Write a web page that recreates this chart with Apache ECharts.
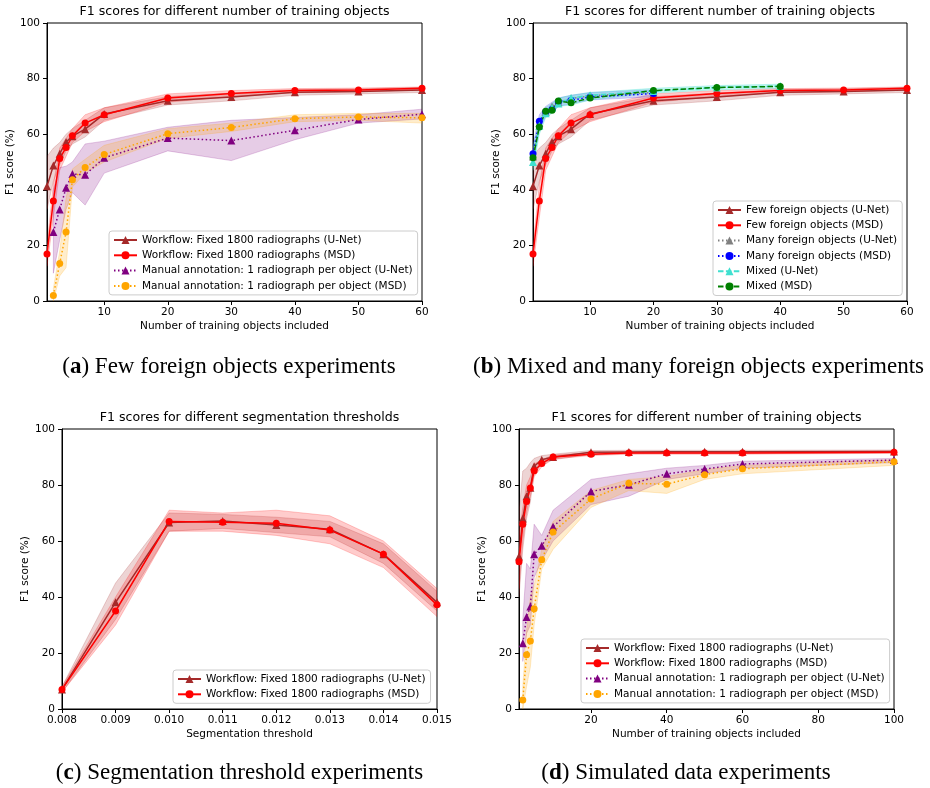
<!DOCTYPE html>
<html>
<head>
<meta charset="utf-8">
<script src="https://cdn.jsdelivr.net/npm/echarts@6/dist/echarts.min.js"></script>
<style>
  html, body { margin: 0; padding: 0; background: #fff; }
  #chart { width: 930px; height: 788px; }
</style>
</head>
<body>
<div id="chart"></div>
<script>
// ---- data ----
var yTicks = [0, 20, 40, 60, 80, 100];

// (a) few foreign objects
var xA = [1, 2, 3, 4, 5, 7, 10, 20, 30, 40, 50, 60];
var aUnet   = [41.3, 48.7, 53, 57.2, 59.3, 61.8, 67.3, 72, 73.4, 75.1, 75.4, 75.9];
var aUnetLo = [33, 43, 49, 54, 56.5, 59, 65, 70.5, 72, 74, 74.5, 75];
var aUnetHi = [52, 55, 57, 60, 62, 65, 69.5, 73.5, 74.8, 76, 76.3, 76.8];
var aMsd    = [16.9, 36, 51.3, 55.2, 59.4, 64, 67, 73, 74.6, 75.7, 75.9, 76.5];
var aMsdLo  = [12.5, 30, 47, 52, 57, 61, 64.5, 71.5, 73.5, 75, 75.3, 76];
var aMsdHi  = [20, 42, 55, 58.5, 62, 67, 69.5, 74.5, 75.7, 76.4, 76.6, 77];
var xAm = [2, 3, 4, 5, 7, 10, 20, 30, 40, 50, 60];
var aManU   = [24.8, 32.9, 40.7, 45.7, 45.4, 51.5, 58.6, 57.7, 61.4, 65.3, 67.2];
var aManULo = [10, 22, 33, 39, 34.5, 46, 54, 50.5, 58, 64, 65.5];
var aManUHi = [40, 48, 48.5, 50, 56.5, 57.5, 62.5, 65, 66, 67, 69];
var aManM   = [2, 13.5, 24.8, 43.6, 48, 52.7, 60.2, 62.4, 65.6, 66.2, 65.9];
var aManMLo = [0, 9, 12, 41, 46, 50, 58.5, 61, 64.5, 65, 64];
var aManMHi = [4.5, 18, 37, 47.5, 51, 56, 62, 64, 67, 67.5, 67.5];

// (b) many / mixed foreign objects
var xBmany = [1, 2, 3, 4, 5, 7, 10, 20];
var bManyU   = [52, 64, 68, 70, 71.5, 72.8, 73.8, 75];
var bManyM   = [53, 64.7, 68, 69, 71.6, 72.2, 73.4, 74.6];
var bManyLo  = [49, 61.5, 66.5, 68, 70, 71, 72.3, 73.5];
var bManyHi  = [56, 67, 70, 71.5, 73, 74, 75, 76];
var xBmix = [1, 2, 3, 4, 5, 7, 10, 20, 30, 40];
var bMixU    = [50, 63, 67.5, 69.5, 71, 73, 74, 75.5, 76.8, 77.3];
var bMixM    = [51.5, 62.6, 68.3, 68.6, 71.9, 71.3, 73, 75.7, 76.8, 77.2];
var bMixLo   = [47, 60, 66, 67.5, 70, 70.5, 72.3, 74.8, 76, 76.5];
var bMixHi   = [55, 65.5, 69.5, 71, 73, 74, 75, 76.5, 77.5, 78];

// (c) segmentation threshold
var xC = [0.008, 0.009, 0.010, 0.011, 0.012, 0.013, 0.014, 0.015];
var cUnet   = [7, 38.1, 66.6, 67.1, 65.7, 64.2, 55.3, 38.1];
var cUnetLo = [6, 32, 63.5, 64.5, 63, 61.5, 52, 35];
var cUnetHi = [8, 45, 70, 69.5, 68.5, 67, 59, 42];
var cMsd    = [7, 35, 67, 66.7, 66.3, 63.9, 55.3, 37.2];
var cMsdLo  = [6, 30, 63.5, 63.5, 62, 59, 50.5, 33];
var cMsdHi  = [8, 40, 71, 70, 71, 69, 60, 43];

// (d) simulated data
var xD = [1, 2, 3, 4, 5, 7, 10, 20, 30, 40, 50, 60, 100];
var dUnet   = [54.5, 68, 76, 79, 86.7, 89, 90, 91.7, 91.8, 91.9, 91.9, 91.9, 92];
var dUnetLo = [40, 57, 68, 74, 84, 87.5, 89, 91, 91.2, 91.3, 91.3, 91.3, 91.4];
var dUnetHi = [70, 85, 86, 88, 89.5, 90.5, 91, 92.3, 92.4, 92.4, 92.4, 92.4, 92.5];
var dMsd    = [52.6, 66, 74.1, 78.9, 85.1, 87.7, 90, 91, 91.4, 91.4, 91.4, 91.4, 91.7];
var dMsdLo  = [43, 60, 70, 76, 83, 86.5, 89.3, 90.5, 91, 91, 91, 91, 91.3];
var dMsdHi  = [62, 72, 80, 83, 87.5, 89, 90.7, 91.5, 91.8, 91.8, 91.8, 91.8, 92.1];
var xDm = [2, 3, 4, 5, 7, 10, 20, 30, 40, 50, 60, 100];
var dManU   = [23.5, 32.9, 36.6, 55.3, 58.3, 65.1, 77.7, 80.1, 84, 85.7, 87.5, 88.9];
var dManULo = [17, 27, 30, 47, 53, 60, 73, 76, 82, 84, 86, 88];
var dManUHi = [32, 52, 50, 66, 62, 71, 82, 84, 86, 87, 88.5, 89.5];
var dManM   = [3.2, 19.4, 24.3, 35.8, 53.3, 63.2, 75, 80.6, 80.3, 83.7, 85.8, 88.3];
var dManMLo = [0, 8, 15, 30, 50, 57, 72, 78, 77, 82, 84, 87];
var dManMHi = [8, 28, 40, 44, 57, 67, 78, 82, 83, 85.5, 87, 89];

var xTicksA = [10, 20, 30, 40, 50, 60];
var xTicksD = [20, 40, 60, 80, 100];

var nWfU = 'Workflow: Fixed 1800 radiographs (U-Net)';
var nWfM = 'Workflow: Fixed 1800 radiographs (MSD)';
var nMaU = 'Manual annotation: 1 radiograph per object (U-Net)';
var nMaM = 'Manual annotation: 1 radiograph per object (MSD)';
var nFewU = 'Few foreign objects (U-Net)';
var nFewM = 'Few foreign objects (MSD)';
var nManyU = 'Many foreign objects (U-Net)';
var nManyM = 'Many foreign objects (MSD)';
var nMixU = 'Mixed (U-Net)';
var nMixM = 'Mixed (MSD)';

// ---- helpers ----
var FONT = 'DejaVu Sans';
var FS = 10.5;
var DOT = [1.5, 2.5];
var DASH = [5.5, 2.4];

function pairs(xs, ys) {
  var out = [];
  for (var i = 0; i < xs.length; i++) out.push([xs[i], ys[i]]);
  return out;
}

function line(name, g, xs, ys, color, symbol, type) {
  return {
    name: name, type: 'line', xAxisIndex: g, yAxisIndex: g,
    data: pairs(xs, ys),
    symbol: symbol, symbolSize: symbol == 'triangle' ? 8 : 7,
    showSymbol: true,
    itemStyle: { color: color },
    lineStyle: { color: color, width: 1.5, type: type || 'solid' },
    z: 3
  };
}

function band(g, xs, lo, hi, fill) {
  var rows = [];
  for (var i = 0; i < xs.length; i++) rows.push([xs[i], lo[i], hi[i]]);
  return {
    type: 'custom', xAxisIndex: g, yAxisIndex: g, data: rows, z: 1,
    silent: true, clip: true,
    encode: { x: 0, y: [1, 2] },
    renderItem: function (params, api) {
      if (params.dataIndex !== 0) return;
      var pts = [];
      for (var k = 0; k < xs.length; k++) pts.push(api.coord([xs[k], hi[k]]));
      for (var k = xs.length - 1; k >= 0; k--) pts.push(api.coord([xs[k], lo[k]]));
      return {
        type: 'polygon', shape: { points: pts },
        style: { fill: fill, stroke: fill, lineWidth: 1 }
      };
    }
  };
}

function xAxisOf(g, min, max, ticks, name, fmt) {
  return {
    type: 'value', gridIndex: g, min: min, max: max,
    name: name, nameLocation: 'middle', nameGap: 20,
    nameTextStyle: { fontFamily: FONT, fontSize: FS, color: '#000' },
    axisLine: { onZero: false, lineStyle: { color: '#000', width: 1 } },
    axisTick: { show: true, length: 4, customValues: ticks, lineStyle: { color: '#000' } },
    axisLabel: { customValues: ticks, margin: 6, fontFamily: FONT, fontSize: FS, color: '#000',
                 formatter: fmt || function (v) { return String(v); } },
    splitLine: { show: false }
  };
}

function yAxisOf(g) {
  return {
    type: 'value', gridIndex: g, min: 0, max: 100, interval: 20,
    name: 'F1 score (%)', nameLocation: 'middle', nameGap: 28,
    nameTextStyle: { fontFamily: FONT, fontSize: FS, color: '#000' },
    axisLine: { show: true, lineStyle: { color: '#000', width: 1 } },
    axisTick: { show: true, length: 4, lineStyle: { color: '#000' } },
    axisLabel: { margin: 7, fontFamily: FONT, fontSize: FS, color: '#000' },
    splitLine: { show: false }
  };
}

function legendOf(names, left, top) {
  return {
    data: names, left: left, top: top, orient: 'vertical',
    selectedMode: false,
    itemWidth: 23, itemHeight: 10, itemGap: 3.3,
    padding: [3, 5, 3, 4],
    backgroundColor: 'rgba(255,255,255,0.8)',
    borderColor: '#cccccc', borderWidth: 1, borderRadius: 3,
    textStyle: { fontFamily: FONT, fontSize: FS, lineHeight: 12, color: '#000' }
  };
}

function gText(txt, x, y) {
  return {
    type: 'text', x: x, y: y,
    style: { text: txt, fontFamily: FONT, fontSize: 12.6, fill: '#000',
             textAlign: 'center', textVerticalAlign: 'middle' }
  };
}

function caption(letter, rest, x, y) {
  return {
    type: 'text', x: x, y: y,
    style: {
      text: '(' + '{b|' + letter + '}' + ') ' + rest,
      fontFamily: 'Liberation Serif', fontSize: 23, fill: '#000',
      textAlign: 'center', textVerticalAlign: 'middle',
      rich: { b: { fontFamily: 'Liberation Serif', fontSize: 23, fontWeight: 'bold', fill: '#000' } }
    }
  };
}

var BROWN = '#a52a2a', RED = '#ff0000', PURPLE = '#800080', ORANGE = '#ffa500';
var GRAY = '#808080', BLUE = '#0000ff', TURQ = '#40e0d0', GREEN = '#008000';

var chart = echarts.init(document.getElementById('chart'));

var gridStyle = { show: true, borderColor: '#000', borderWidth: 1, backgroundColor: '#fff', containLabel: false, outerBoundsMode: 'none' };

var option = {
  animation: false,
  backgroundColor: '#fff',
  grid: [
    Object.assign({ left: 47, top: 23, width: 375, height: 278 }, gridStyle),
    Object.assign({ left: 533, top: 23, width: 374, height: 278 }, gridStyle),
    Object.assign({ left: 62, top: 429, width: 375, height: 280 }, gridStyle),
    Object.assign({ left: 519, top: 429, width: 375, height: 280 }, gridStyle)
  ],
  xAxis: [
    xAxisOf(0, 1, 60, xTicksA, 'Number of training objects included'),
    xAxisOf(1, 1, 60, xTicksA, 'Number of training objects included'),
    xAxisOf(2, 0.008, 0.015, xC, 'Segmentation threshold', function (v) { return v.toFixed(3); }),
    xAxisOf(3, 1, 100, xTicksD, 'Number of training objects included')
  ],
  yAxis: [yAxisOf(0), yAxisOf(1), yAxisOf(2), yAxisOf(3)],
  legend: [
    legendOf([nWfU, nWfM, nMaU, nMaM], 109, 231),
    legendOf([nFewU, nFewM, nManyU, nManyM, nMixU, nMixM], 713, 201),
    legendOf([nWfU, nWfM], 173, 670),
    legendOf([nWfU, nWfM, nMaU, nMaM], 581, 639)
  ],
  graphic: [
    gText('F1 scores for different number of training objects', 234.5, 12),
    gText('F1 scores for different number of training objects', 720, 12),
    gText('F1 scores for different segmentation thresholds', 249.5, 418),
    gText('F1 scores for different number of training objects', 706.5, 418),
    caption('a', 'Few foreign objects experiments', 229, 367),
    caption('b', 'Mixed and many foreign objects experiments', 698.5, 367),
    caption('c', 'Segmentation threshold experiments', 239.5, 773),
    caption('d', 'Simulated data experiments', 686, 773)
  ],
  series: [
    // (a)
    band(0, xA, aUnetLo, aUnetHi, 'rgba(165,42,42,0.2)'),
    band(0, xA, aMsdLo, aMsdHi, 'rgba(255,0,0,0.2)'),
    band(0, xAm, aManULo, aManUHi, 'rgba(128,0,128,0.2)'),
    band(0, xAm, aManMLo, aManMHi, 'rgba(255,165,0,0.2)'),
    line(nWfU, 0, xA, aUnet, BROWN, 'triangle'),
    line(nWfM, 0, xA, aMsd, RED, 'circle'),
    line(nMaU, 0, xAm, aManU, PURPLE, 'triangle', DOT),
    line(nMaM, 0, xAm, aManM, ORANGE, 'circle', DOT),
    // (b)
    band(1, xA, aUnetLo, aUnetHi, 'rgba(165,42,42,0.2)'),
    band(1, xA, aMsdLo, aMsdHi, 'rgba(255,0,0,0.2)'),
    band(1, xBmany, bManyLo, bManyHi, 'rgba(60,60,230,0.22)'),
    band(1, xBmix, bMixLo, bMixHi, 'rgba(64,224,208,0.3)'),
    line(nFewU, 1, xA, aUnet, BROWN, 'triangle'),
    line(nFewM, 1, xA, aMsd, RED, 'circle'),
    line(nManyU, 1, xBmany, bManyU, GRAY, 'triangle', DOT),
    line(nManyM, 1, xBmany, bManyM, BLUE, 'circle', DOT),
    line(nMixU, 1, xBmix, bMixU, TURQ, 'triangle', DASH),
    line(nMixM, 1, xBmix, bMixM, GREEN, 'circle', DASH),
    // (c)
    band(2, xC, cUnetLo, cUnetHi, 'rgba(165,42,42,0.2)'),
    band(2, xC, cMsdLo, cMsdHi, 'rgba(255,0,0,0.2)'),
    line(nWfU, 2, xC, cUnet, BROWN, 'triangle'),
    line(nWfM, 2, xC, cMsd, RED, 'circle'),
    // (d)
    band(3, xD, dUnetLo, dUnetHi, 'rgba(165,42,42,0.2)'),
    band(3, xD, dMsdLo, dMsdHi, 'rgba(255,0,0,0.2)'),
    band(3, xDm, dManULo, dManUHi, 'rgba(128,0,128,0.2)'),
    band(3, xDm, dManMLo, dManMHi, 'rgba(255,165,0,0.2)'),
    line(nWfU, 3, xD, dUnet, BROWN, 'triangle'),
    line(nWfM, 3, xD, dMsd, RED, 'circle'),
    line(nMaU, 3, xDm, dManU, PURPLE, 'triangle', DOT),
    line(nMaM, 3, xDm, dManM, ORANGE, 'circle', DOT)
  ]
};

chart.setOption(option);
</script>
</body>
</html>
